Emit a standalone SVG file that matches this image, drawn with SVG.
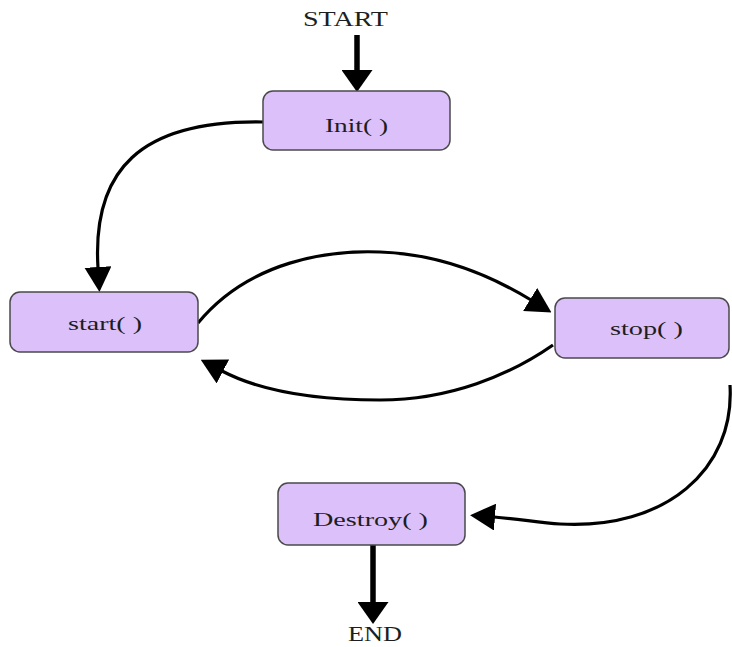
<svg xmlns="http://www.w3.org/2000/svg" width="732" height="647" viewBox="0 0 732 647">
  <style>
    .box { fill: #dcc0fa; stroke: #4a4a4a; stroke-width: 1.5; }
    .lbl { font-family: "Liberation Serif", "Times New Roman", serif; font-size: 18px; fill: #1e1e1e; }
    .term { font-family: "Liberation Serif", "Times New Roman", serif; font-size: 20px; fill: #1e1e1e; }
    .curve { fill: none; stroke: #000; stroke-width: 3.2; }
    .straight { fill: none; stroke: #000; stroke-width: 5.5; }
  </style>
  <defs>
    <marker id="head" markerUnits="userSpaceOnUse" viewBox="0 0 25 27" markerWidth="25" markerHeight="27" refX="1" refY="13.5" orient="auto">
      <path d="M0,0 L25,13.5 L0,27 z" fill="#000"/>
    </marker>
    <marker id="bighead" markerUnits="userSpaceOnUse" viewBox="0 0 22 31" markerWidth="22" markerHeight="31" refX="1" refY="15.5" orient="auto">
      <path d="M0,0 L22,15.5 L0,31 z" fill="#000"/>
    </marker>
  </defs>

  <text class="term" x="303" y="26" textLength="85" lengthAdjust="spacingAndGlyphs">START</text>

  <g id="connectors">
    <path class="straight" d="M357,35 L357,71" marker-end="url(#bighead)"/>
    <path class="curve" d="M263,122 C140,120 92,170 98,268" marker-end="url(#head)"/>
    <path class="curve" d="M198,323 C250,260 330,250 380,252 C440,254 490,275 531,300" marker-end="url(#head)"/>
    <path class="curve" d="M553,345 C510,375 450,400 380,400 C320,400 262,392 222,371" marker-end="url(#head)"/>
    <path class="curve" d="M730,385 C735,470 665,530 560,524 C540,523 520,519 494,517" marker-end="url(#head)"/>
    <path class="straight" d="M373,545 L373,603" marker-end="url(#bighead)"/>
  </g>

  <g id="init">
    <rect class="box" x="263" y="91" width="187" height="59" rx="10"/>
    <text class="lbl" x="325" y="132" textLength="63" lengthAdjust="spacingAndGlyphs">Init( )</text>
  </g>

  <g id="start">
    <rect class="box" x="10" y="292" width="188" height="60" rx="10"/>
    <text class="lbl" x="68" y="330" textLength="74" lengthAdjust="spacingAndGlyphs">start( )</text>
  </g>

  <g id="stop">
    <rect class="box" x="555" y="298" width="174" height="60" rx="10"/>
    <text class="lbl" x="610" y="335" textLength="73" lengthAdjust="spacingAndGlyphs">stop( )</text>
  </g>

  <g id="destroy">
    <rect class="box" x="278" y="483" width="187" height="62" rx="10"/>
    <text class="lbl" x="313" y="526" textLength="115" lengthAdjust="spacingAndGlyphs">Destroy( )</text>
  </g>

  <text class="term" x="348" y="641" textLength="54" lengthAdjust="spacingAndGlyphs">END</text>
</svg>
